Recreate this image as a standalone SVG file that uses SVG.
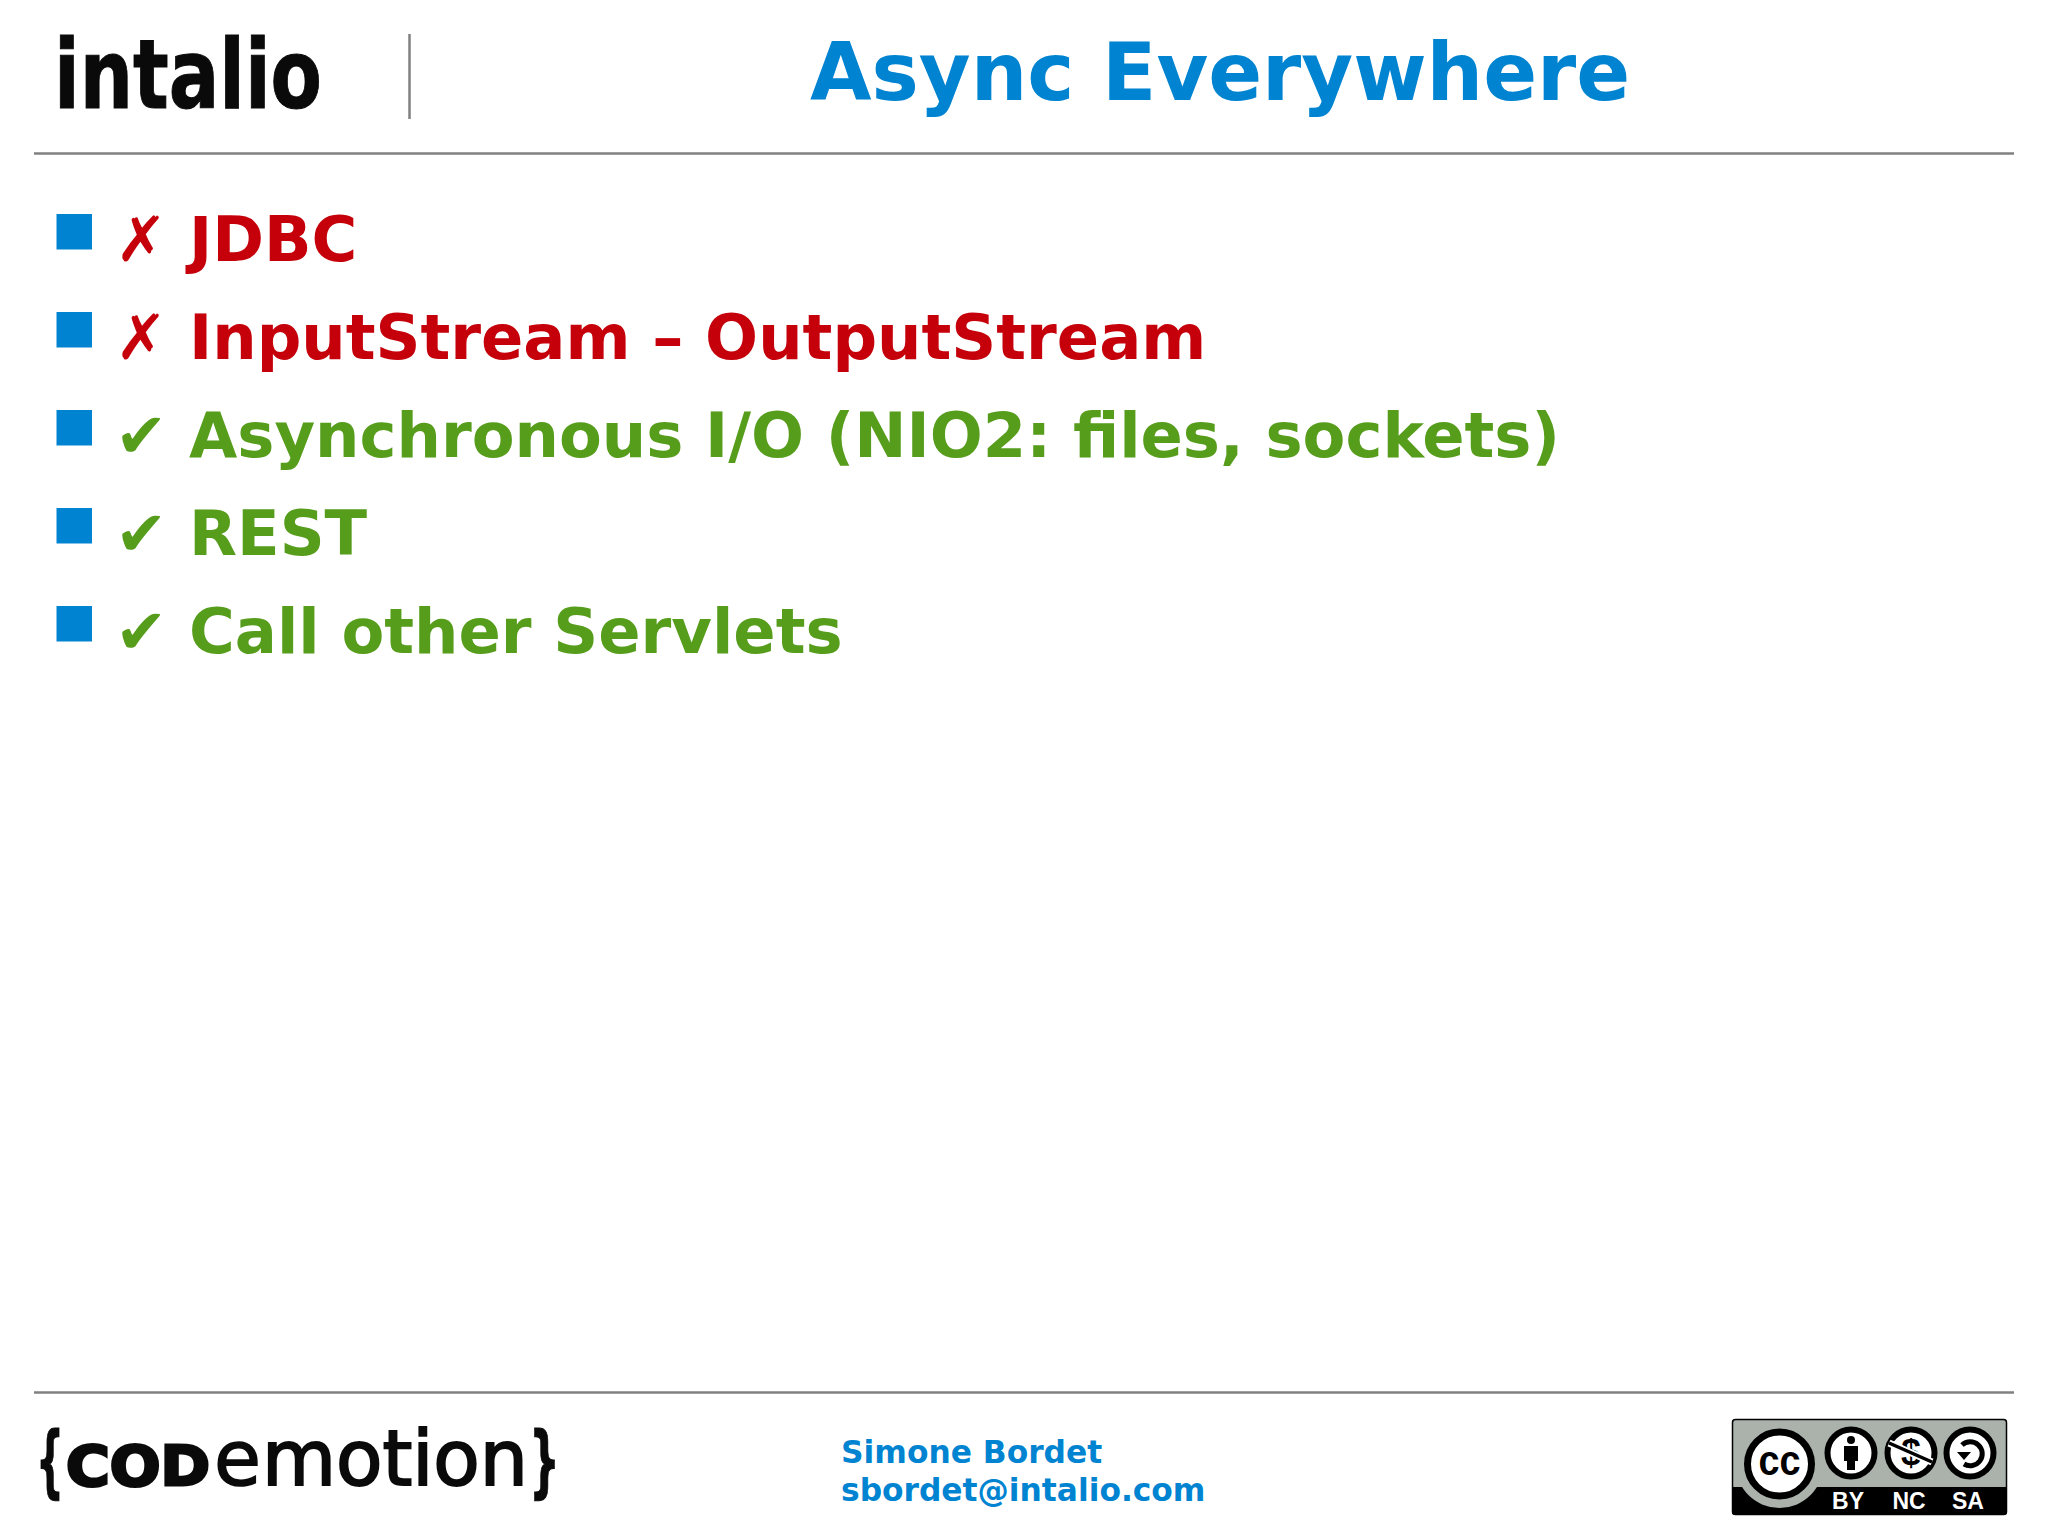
<svg xmlns="http://www.w3.org/2000/svg" width="2048" height="1536" viewBox="0 0 2048 1536">
<style>
text{font-family:"DejaVu Sans",sans-serif;font-weight:700}
.b{fill:#0084d1}
.r{fill:#c5000b;font-size:62.4px}
.g{fill:#579d1c;font-size:62.4px}
.rule{stroke:#808080;stroke-width:2.5;fill:none}
.cct{font-family:"Liberation Sans",Arial,sans-serif;fill:#fff;font-size:23px;text-anchor:middle}
.ring{fill:#fff;stroke:#000;stroke-width:6}
.cm{stroke:#0a0a0a}
</style>
<rect width="2048" height="1536" fill="#fff"/>
<g id="header">
<text id="logo-intalio" x="54" y="108" font-size="96" textLength="268" lengthAdjust="spacingAndGlyphs" fill="#0a0a0a" stroke="#0a0a0a" stroke-width="1">intalio</text>
<path class="rule" d="M409.500 34V119" stroke-width="2"/>
<text id="title" class="b" x="810" y="100" font-size="79.500">Async Everywhere</text>
<path class="rule" d="M34 153.500H2014"/>
</g>
<g id="bullets">
<g id="bullet-1"><rect class="b" x="56.500" y="214" width="35.500" height="35.500"/><text class="r" x="115" y="261">✗ JDBC</text></g>
<g id="bullet-2"><rect class="b" x="56.500" y="312" width="35.500" height="35.500"/><text class="r" x="115" y="359">✗ InputStream – OutputStream</text></g>
<g id="bullet-3"><rect class="b" x="56.500" y="410" width="35.500" height="35.500"/><text class="g" x="115" y="457">✔ Asynchronous I/O (NIO2: files, sockets)</text></g>
<g id="bullet-4"><rect class="b" x="56.500" y="508" width="35.500" height="35.500"/><text class="g" x="115" y="555">✔ REST</text></g>
<g id="bullet-5"><rect class="b" x="56.500" y="606" width="35.500" height="35.500"/><text class="g" x="115" y="653">✔ Call other Servlets</text></g>
</g>
<g id="footer">
<path class="rule" d="M34 1392.500H2014"/>
<g id="logo-codemotion" fill="#0a0a0a">
<text class="cm" x="36" y="1488" stroke-width="1" textLength="28" lengthAdjust="spacingAndGlyphs" style="font-size:79px">{</text>
<text class="cm" x="66" y="1484.500" stroke-width="3" textLength="144" lengthAdjust="spacingAndGlyphs" style="text-transform:uppercase;font-size:56px">cod</text>
<text class="cm" x="214" y="1485" stroke-width="1.500" textLength="47" lengthAdjust="spacingAndGlyphs" style="font-weight:400;font-size:76px">e</text>
<text class="cm" x="262" y="1485" stroke-width="2" textLength="266" lengthAdjust="spacingAndGlyphs" style="font-weight:400;font-size:76px">motion</text>
<text class="cm" x="529" y="1488" stroke-width="1" textLength="31" lengthAdjust="spacingAndGlyphs" style="font-size:79px">}</text>
</g>
<g id="author" class="b" font-size="31.300">
<text x="841" y="1463">Simone Bordet</text>
<text x="841" y="1501">sbordet@intalio.com</text>
</g>
<g id="cc-badge">
<defs><clipPath id="badge"><rect x="1732" y="1419" width="275" height="96" rx="3"/></clipPath></defs>
<g clip-path="url(#badge)">
<rect x="1732" y="1419" width="275" height="96" fill="#aab2ab"/>
<rect x="1732" y="1487" width="275" height="28" fill="#000"/>
<circle cx="1779.500" cy="1464" r="44" fill="#aab2ab"/>
</g>
<rect x="1732.500" y="1419.500" width="274" height="95" rx="3" fill="none" stroke="#000" stroke-width="1.500"/>
<circle cx="1779.500" cy="1464" r="32" fill="#fff" stroke="#000" stroke-width="7"/>
<text x="1779.500" y="1475" font-size="42" text-anchor="middle" fill="#000" style="font-family:'Liberation Sans',sans-serif" textLength="42" lengthAdjust="spacingAndGlyphs">cc</text>
<circle class="ring" cx="1851" cy="1453" r="23.500"/>
<circle cx="1851" cy="1440" r="4" fill="#000"/>
<path d="M1844 1446H1858V1461H1855V1470H1847V1461H1844Z" fill="#000"/>
<circle class="ring" cx="1911" cy="1453" r="23.500"/>
<text x="1911" y="1465" font-size="36" text-anchor="middle" fill="#000" style="font-family:'Liberation Sans',sans-serif">$</text>
<path d="M1889 1443L1932 1462" stroke="#fff" stroke-width="7"/>
<path d="M1889 1443L1932 1462" stroke="#000" stroke-width="3.500"/>
<circle class="ring" cx="1970" cy="1453" r="23.500"/>
<path d="M1962 1445A12 12 0 1 1 1964 1464" fill="none" stroke="#000" stroke-width="5"/>
<path d="M1957 1452H1971L1964 1460Z" fill="#000"/>
<text class="cct" x="1848" y="1509">BY</text>
<text class="cct" x="1909" y="1509">NC</text>
<text class="cct" x="1968" y="1509">SA</text>
</g>
</g>
</svg>
